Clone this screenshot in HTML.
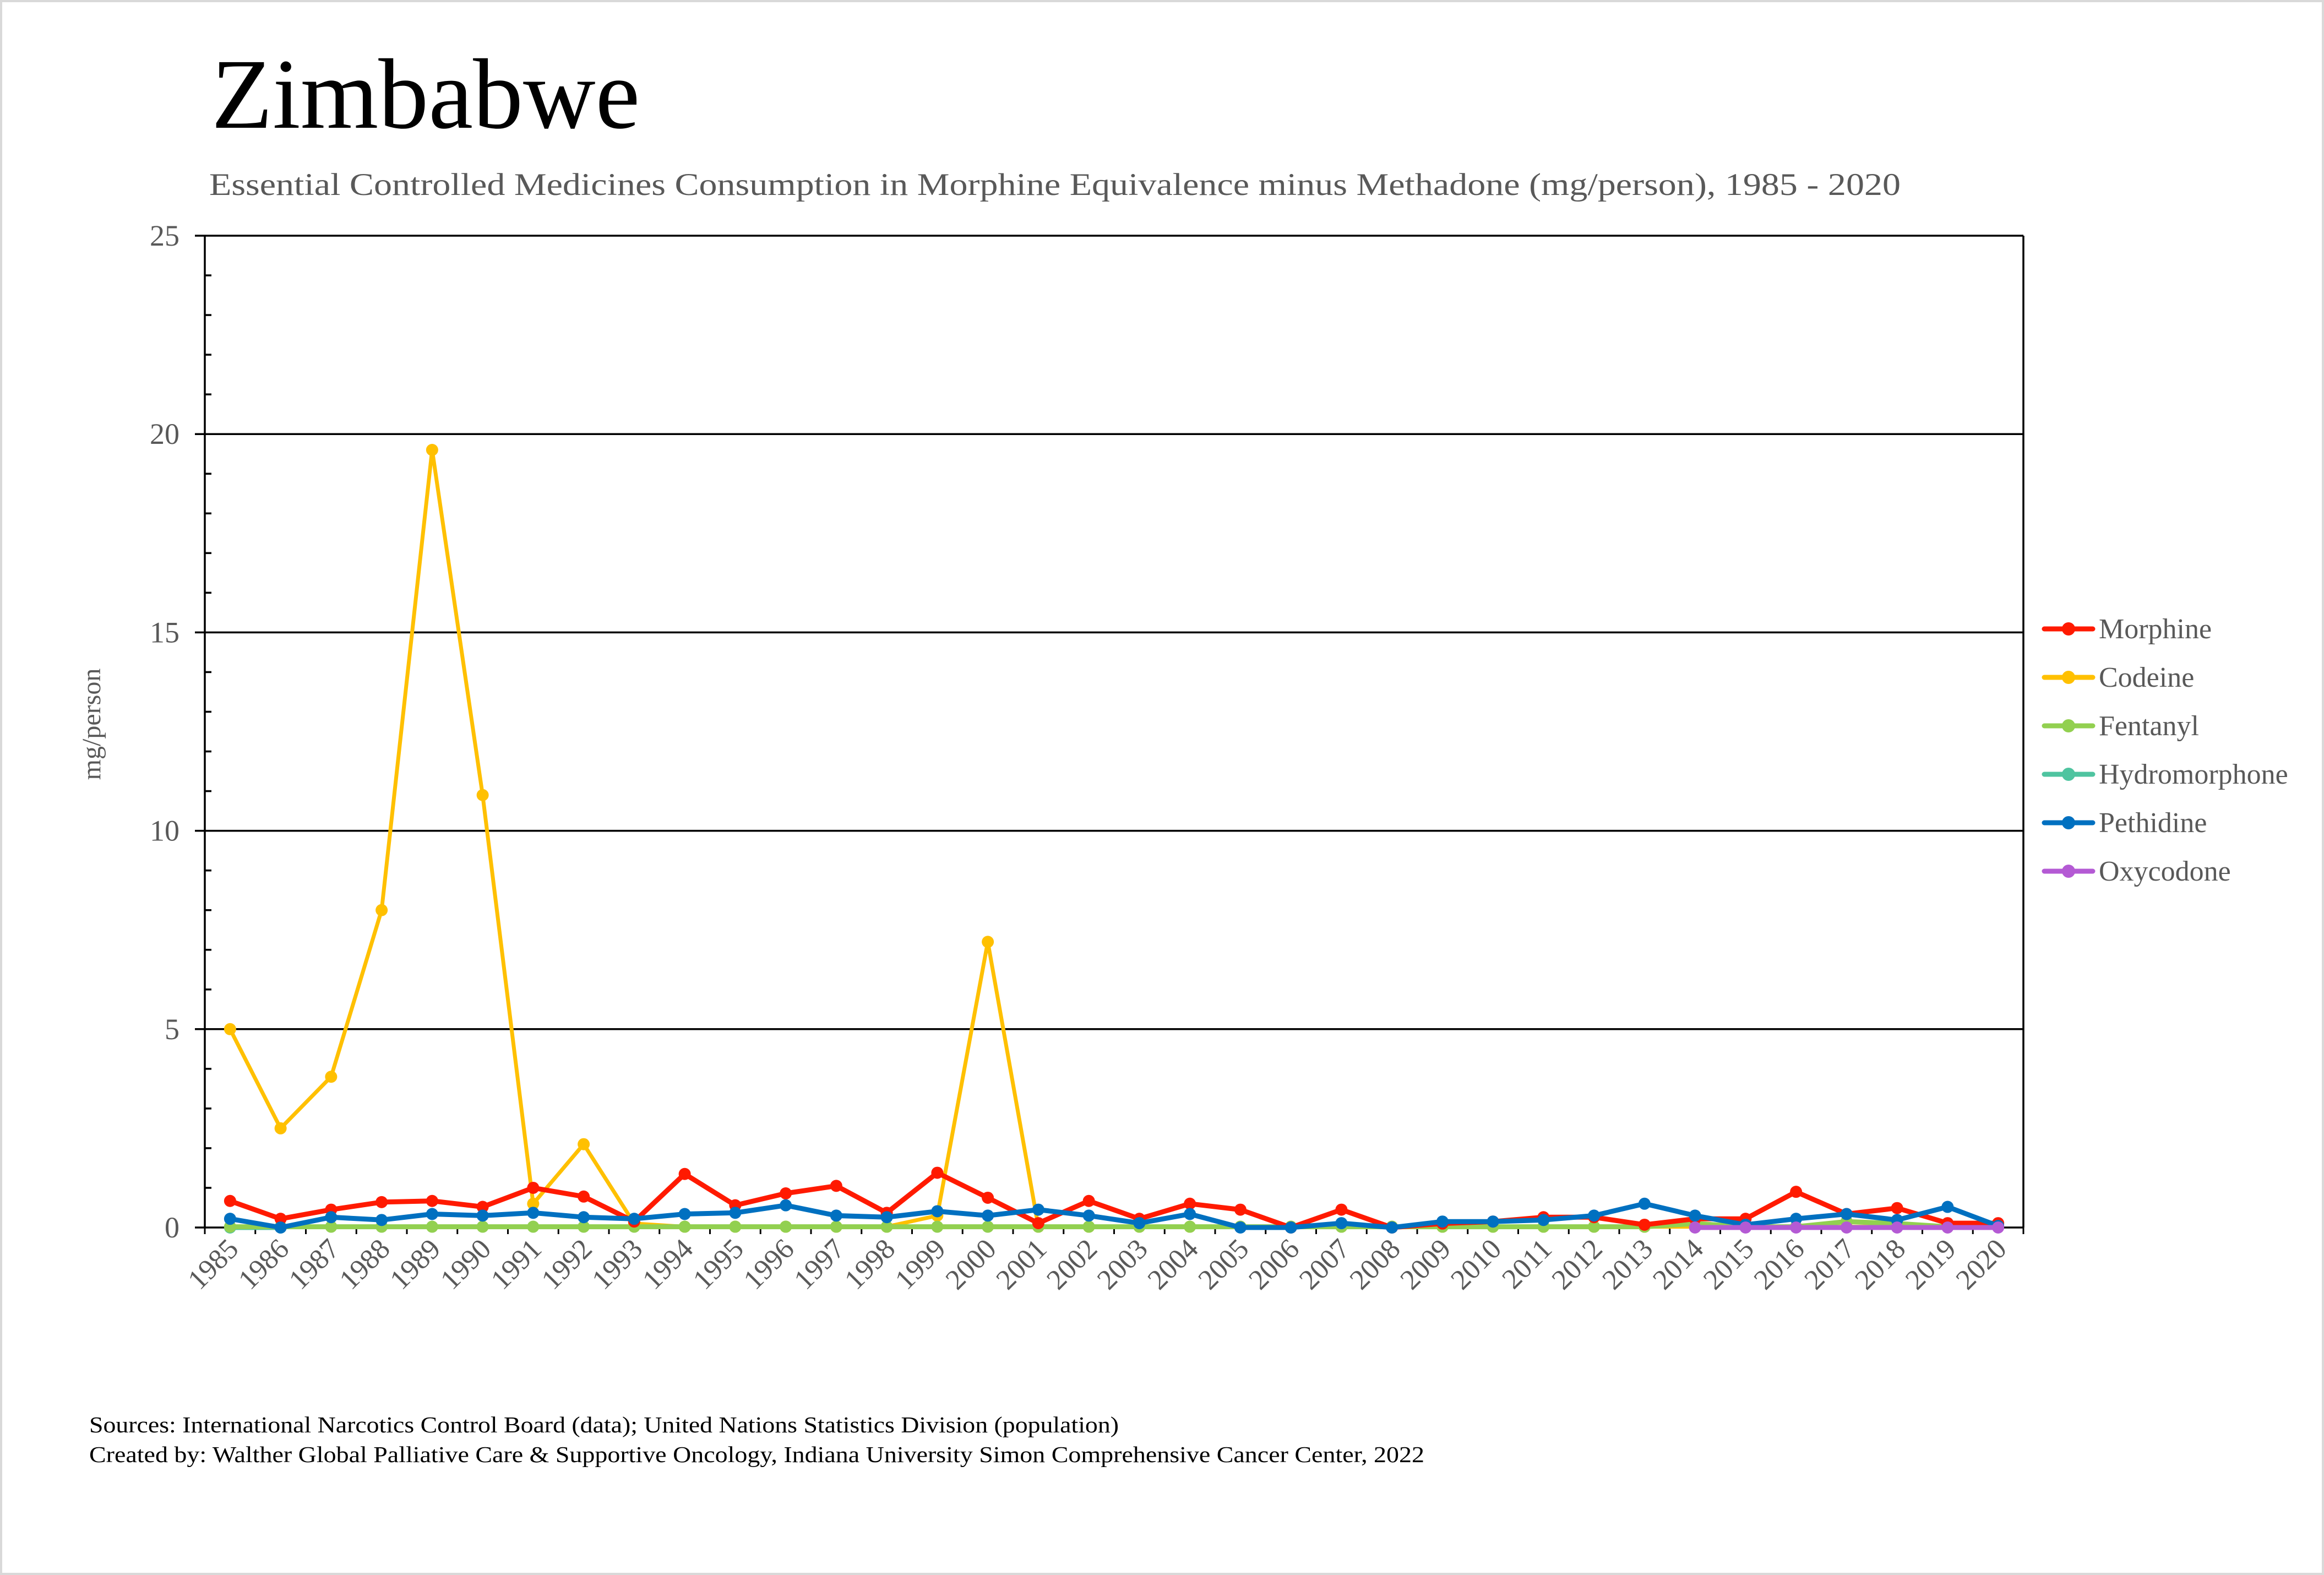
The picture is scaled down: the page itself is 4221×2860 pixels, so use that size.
<!DOCTYPE html>
<html><head><meta charset="utf-8"><style>html,body{margin:0;padding:0;background:#fff}svg{display:block}</style></head>
<body>
<svg id="s" xmlns="http://www.w3.org/2000/svg" width="4221" height="2860" viewBox="0 0 4221 2860" font-family="'Liberation Serif', serif">
<rect x="2" y="2" width="4217" height="2856" fill="#fff" stroke="#d9d9d9" stroke-width="4"/>
<text x="384" y="232" font-size="182" fill="#000">Zimbabwe</text>
<text x="380" y="354" font-size="57" fill="#595959" textLength="3072" lengthAdjust="spacingAndGlyphs">Essential Controlled Medicines Consumption in Morphine Equivalence minus Methadone (mg/person), 1985 - 2020</text>
<g id="grid"></g>
<g id="series"></g>
<text transform="translate(182,1315) rotate(-90)" font-size="48" fill="#595959" text-anchor="middle">mg/person</text>
<g font-size="52" fill="#595959" id="legend"></g>
<text x="162" y="2601" font-size="41" fill="#000" textLength="1870" lengthAdjust="spacingAndGlyphs">Sources: International Narcotics Control Board (data); United Nations Statistics Division (population)</text>
<text x="162" y="2655" font-size="41" fill="#000" textLength="2425" lengthAdjust="spacingAndGlyphs">Created by: Walther Global Palliative Care &amp; Supportive Oncology, Indiana University Simon Comprehensive Cancer Center, 2022</text>
</svg>
<script>
var NS="http://www.w3.org/2000/svg";
function el(p,t,a,txt){var e=document.createElementNS(NS,t);for(var k in a)e.setAttribute(k,a[k]);if(txt!==undefined)e.textContent=txt;p.appendChild(e);return e;}
var L=372,R=3675,T=428,B=2229,step=(R-L)/36,py=(B-T)/25;
function X(i){return L+step*(i+0.5);} function Y(v){return B-v*py;}
var g=document.getElementById('grid');
for(var v=5;v<=25;v+=5){el(g,'line',{x1:L-18,x2:R,y1:Y(v),y2:Y(v),stroke:'#000','stroke-width':3.5});}
for(var v=0;v<25;v++){if(v%5)el(g,'line',{x1:L,x2:L+12,y1:Y(v),y2:Y(v),stroke:'#000','stroke-width':3.5});}
for(var v=0;v<=25;v+=5){el(g,'text',{x:L-46,y:Y(v)+18,'font-size':54,fill:'#595959','text-anchor':'end'},''+v);}
el(g,'line',{x1:L,x2:L,y1:T,y2:B,stroke:'#000','stroke-width':3.5});
el(g,'line',{x1:R,x2:R,y1:T,y2:B,stroke:'#000','stroke-width':3.5});
el(g,'line',{x1:L-18,x2:R,y1:B,y2:B,stroke:'#000','stroke-width':3.5});
for(var i=0;i<=36;i++){el(g,'line',{x1:L+step*i,x2:L+step*i,y1:B,y2:B+12,stroke:'#000','stroke-width':3});}
for(var i=0;i<36;i++){el(g,'text',{transform:'translate('+(X(i)+18)+','+(B+42)+') rotate(-45)','font-size':52,fill:'#595959','text-anchor':'end'},''+(1985+i));}
var S=document.getElementById('series');
var mor=[0.67,0.22,0.45,0.64,0.67,0.52,1.0,0.78,0.15,1.35,0.56,0.86,1.05,0.37,1.38,0.75,0.11,0.67,0.22,0.6,0.45,0,0.45,0,0.1,0.15,0.26,0.26,0.07,0.22,0.22,0.9,0.34,0.49,0.11,0.11];
var cod=[5.0,2.5,3.8,8.0,19.6,10.9,0.6,2.1,0.1,0.02,0.02,0.02,0.02,0.02,0.3,7.2,0.02,0.02,0.02,0.02,0.02,0.02,0.02,0.02,0.02,0.02,0.02,0.02,0.02,0.02,0.02,0.02,0.02,0.02,0.02,0.02];
var fen=[];for(var i=0;i<36;i++)fen.push(0.02);fen[29]=0.1;fen[32]=0.15;fen[33]=0.1;
var pet=[0.22,0,0.26,0.19,0.34,0.3,0.37,0.26,0.22,0.34,0.37,0.56,0.3,0.26,0.41,0.3,0.45,0.3,0.11,0.34,0,0,0.11,0,0.15,0.15,0.19,0.3,0.6,0.3,0.07,0.22,0.34,0.19,0.52,0.04];
function draw(d,start,col,w){var pts=[];for(var i=0;i<d.length;i++)pts.push(X(start+i).toFixed(1)+','+Y(d[i]).toFixed(1));
el(S,'polyline',{points:pts.join(' '),fill:'none',stroke:col,'stroke-width':w,'stroke-linejoin':'round'});
for(var i=0;i<d.length;i++)el(S,'circle',{cx:X(start+i),cy:Y(d[i]),r:11,fill:col});}
draw([0,0],0,'#4fc4a0',9);
draw(cod,0,'#ffc000',7);
draw(fen,0,'#92d050',9);
draw(mor,0,'#ff1a00',9);
draw(pet,0,'#0070c0',9);
draw([0,0,0,0,0,0,0],29,'#b45ad4',9);
var lg=document.getElementById('legend');
var names=[['Morphine','#ff1a00'],['Codeine','#ffc000'],['Fentanyl','#92d050'],['Hydromorphone','#4fc4a0'],['Pethidine','#0070c0'],['Oxycodone','#b45ad4']];
for(var i=0;i<6;i++){var y=1142+88*i;
el(lg,'line',{x1:3713,x2:3801,y1:y,y2:y,stroke:names[i][1],'stroke-width':9,'stroke-linecap':'round'});
el(lg,'circle',{cx:3757,cy:y,r:12,fill:names[i][1]});
el(lg,'text',{x:3812,y:y+17},names[i][0]);}
</script>
</body></html>
